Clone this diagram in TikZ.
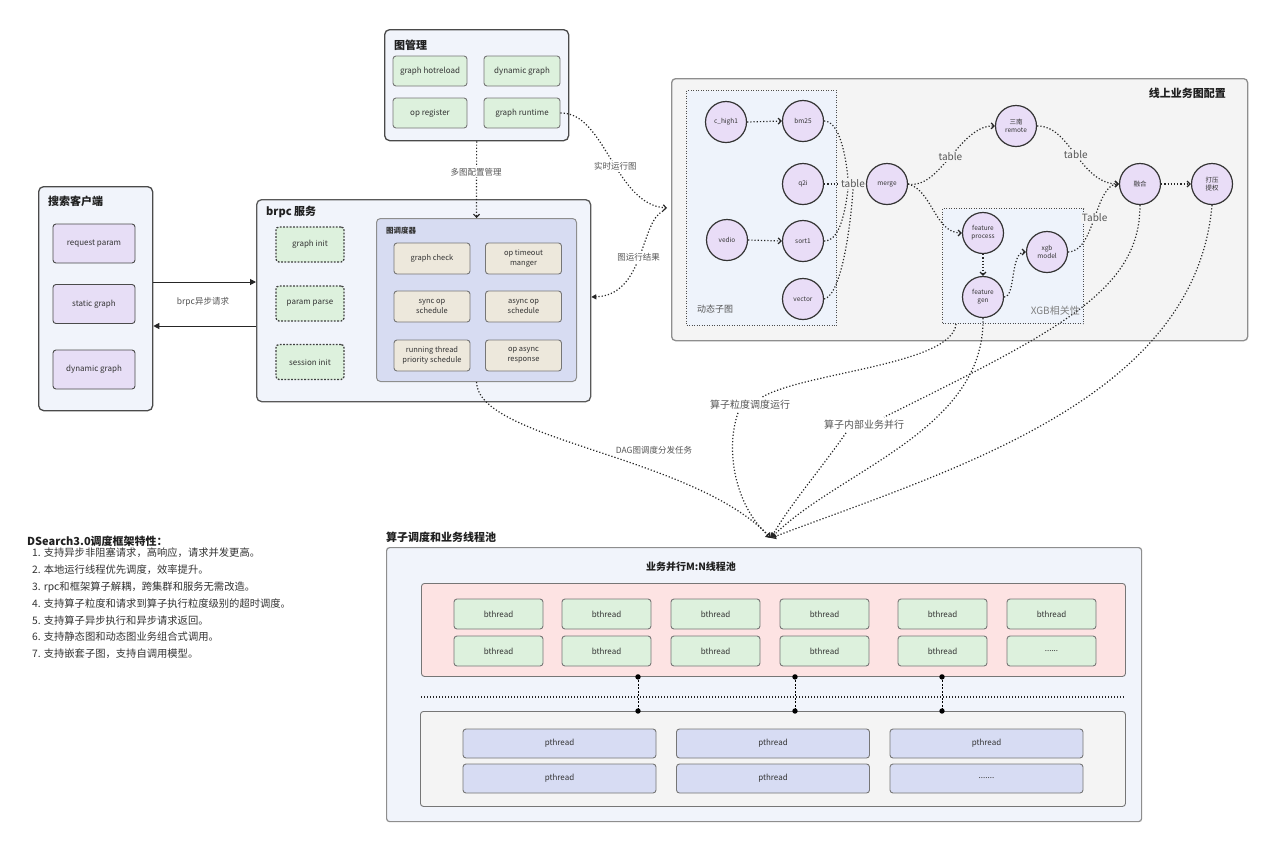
\documentclass[tikz,border=0pt]{standalone}
\usepackage{fontspec}
\setmainfont{Noto Sans CJK SC}
\usetikzlibrary{arrows.meta,calc}
\definecolor{panelbg}{HTML}{F1F4FB}
\definecolor{bdA}{HTML}{4A4A4A}
\definecolor{bdB}{HTML}{8E8E8E}
\definecolor{bdC}{HTML}{767676}
\definecolor{greenbg}{HTML}{DDF1DD}
\definecolor{purplebg}{HTML}{E7DEF6}
\definecolor{schedbg}{HTML}{D7DCF2}
\definecolor{beigebg}{HTML}{EDE8DC}
\definecolor{cfgbg}{HTML}{F4F4F4}
\definecolor{subbg}{HTML}{EEF3FB}
\definecolor{circbg}{HTML}{E9DDF7}
\definecolor{pinkbg}{HTML}{FDE3E3}
\definecolor{pthbg}{HTML}{D7DCF3}
\definecolor{txt}{HTML}{333333}
\definecolor{lbltxt}{HTML}{555555}
\begin{document}
\begin{tikzpicture}[x=1pt,y=-1pt,
  every node/.style={text=txt},
  panel/.style={draw=bdA, fill=panelbg, rounded corners=5pt, line width=1.3pt, anchor=north west, inner sep=0pt},
  title/.style={font=\fontsize{11}{13}\selectfont\bfseries, inner sep=0pt, text=black!88},
  fsA/.style={font=\fontsize{8}{9.5}\selectfont},
  gbox/.style={draw=bdC, fill=greenbg, rounded corners=3pt, line width=0.9pt, fsA, align=center, inner sep=1pt},
  gdash/.style={gbox, draw=black!75, line width=1.3pt, dash pattern=on 1.8pt off 1.5pt},
  pbox/.style={gbox, fill=purplebg, draw=bdA},
  ybox/.style={gbox, fill=beigebg, font=\fontsize{7.5}{10}\selectfont},
  subbox/.style={draw=black!70, fill=subbg, dash pattern=on 1pt off 1.5pt, line width=1pt, anchor=north west, inner sep=0pt},
  circ/.style={circle, draw=black!80, line width=1.2pt, fill=circbg, minimum size=41pt, inner sep=0pt, font=\fontsize{6.5}{8}\selectfont, align=center},
  lbl/.style={fill=white, inner sep=1.5pt, font=\fontsize{8.5}{10}\selectfont, text=lbltxt},
  lblbig/.style={fill=white, inner sep=1.5pt, font=\fontsize{10}{12}\selectfont, text=lbltxt},
  lblc/.style={fill=cfgbg, inner sep=1pt, font=\fontsize{10}{12}\selectfont, text=lbltxt},
  dl/.style={line width=1.2pt, dash pattern=on 1.2pt off 2pt, draw=black!85},
  arr/.style={dl, -{Straight Barb[length=3pt,width=6pt]}},
  opentip/.style={dl, -{Triangle[open,length=5pt,width=6pt]}},
  solidarrow/.style={line width=1pt, draw=black!85, -{Triangle[length=6pt,width=6pt]}},
  bbox/.style={gbox, minimum width=89, minimum height=30},
  ptbox/.style={gbox, fill=pthbg, minimum width=193, minimum height=29}
]
\useasboundingbox (0,0) rectangle (1280,855);
\fill[white] (0,0) rectangle (1280,855);

% ---------- 图管理 ----------
\node[panel, minimum width=184, minimum height=111] (gm) at (384,29) {};
\node[title, anchor=west] (gmt) at (394,45) {图管理};
\node[gbox, minimum width=74, minimum height=30] (gm1) at (430,71) {graph hotreload};
\node[gbox, minimum width=76, minimum height=30] (gm2) at (522,71) {dynamic graph};
\node[gbox, minimum width=74, minimum height=30] (gm3) at (430,113) {op register};
\node[gbox, minimum width=76, minimum height=30] (gm4) at (522,113) {graph runtime};

% ---------- 搜索客户端 ----------
\node[panel, minimum width=114, minimum height=224] (cl) at (38,186) {};
\node[title, anchor=west] (clt) at (48,201) {搜索客户端};
\node[pbox, minimum width=82, minimum height=39] (c1) at (94,243.5) {request param};
\node[pbox, minimum width=82, minimum height=39] (c2) at (94,304) {static graph};
\node[pbox, minimum width=82, minimum height=39] (c3) at (94,369.5) {dynamic graph};

% ---------- brpc 服务 ----------
\node[panel, draw=black!65, minimum width=334, minimum height=202] (brpc) at (256,199) {};
\node[title, anchor=west] (brpct) at (266,212) {brpc 服务};
\node[gdash, minimum width=68, minimum height=35] (b1) at (310,244.5) {graph init};
\node[gdash, minimum width=68, minimum height=35] (b2) at (310,303.5) {param parse};
\node[gdash, minimum width=68, minimum height=35] (b3) at (310,362) {session init};
\node[draw=bdB, fill=schedbg, rounded corners=4pt, line width=1pt, anchor=north west, inner sep=0pt, minimum width=200, minimum height=163] (sch) at (376,218) {};
\node[font=\fontsize{7.5}{9}\selectfont\bfseries, anchor=west, inner sep=0pt] (scht) at (386,231) {图调度器};
\node[ybox, minimum width=76, minimum height=31] (s1) at (432,258.5) {graph check};
\node[ybox, minimum width=76, minimum height=31] (s2) at (523.5,258.5) {op timeout\\manger};
\node[ybox, minimum width=76, minimum height=31] (s3) at (432,306.5) {sync op\\schedule};
\node[ybox, minimum width=76, minimum height=31] (s4) at (523.5,306.5) {async op\\schedule};
\node[ybox, minimum width=76, minimum height=31] (s5) at (432,355.5) {running thread\\priority schedule};
\node[ybox, minimum width=76, minimum height=31] (s6) at (523.5,355.5) {op async\\response};

% client <-> brpc
\coordinate (ya) at (0,282);
\coordinate (yb) at (0,326);
\draw[solidarrow] (cl.east |- ya) -- (brpc.west |- ya);
\draw[solidarrow] (brpc.west |- yb) -- (cl.east |- yb);
\node[lbl] (la) at (203,302) {brpc异步请求};

% 多图配置管理
\draw[arr] (gm.south) -- (sch.north);
\node[lbl] (lb) at (476,172) {多图配置管理};

% ---------- 线上业务图配置 ----------
\node[draw=bdB, fill=cfgbg, rounded corners=4pt, line width=1.3pt, anchor=north west, inner sep=0pt, minimum width=576, minimum height=262] (cfg) at (671,78) {};
\node[title, anchor=east] (cfgt) at (1226,93) {线上业务图配置};
\node[subbox, minimum width=150, minimum height=235] (dyn) at (686,90) {};
\node[anchor=west, inner sep=0pt, font=\fontsize{9}{11}\selectfont, text=lbltxt] (dynt) at (697,309) {动态子图};
\node[subbox, minimum width=141, minimum height=115] (xgbb) at (942,208) {};
\node[anchor=east, inner sep=0pt, font=\fontsize{10}{12}\selectfont, text=gray] (xgbt) at (1080,311) {XGB相关性};

\node[circ] (ch) at (726,122) {c\_high1};
\node[circ] (bm) at (803,121) {bm25};
\node[circ] (q2) at (803,184) {q2i};
\node[circ] (vd) at (727,240) {vedio};
\node[circ] (so) at (803,241) {sort1};
\node[circ] (ve) at (803,299) {vector};
\node[circ] (mg) at (887,184) {merge};
\node[circ] (rm) at (1016,126) {三南\\remote};
\node[circ] (rh) at (1140,184) {融合};
\node[circ] (dy) at (1212,184) {打压\\提权};
\node[circ] (fp) at (983,233) {feature\\process};
\node[circ] (fg) at (983,297) {feature\\gen};
\node[circ] (xg) at (1047,252) {xgb\\model};

\node[inner sep=1pt, font=\fontsize{10}{12}\selectfont, text=lbltxt] (tbl) at (853,184) {table};

\draw[arr] (ch.east) -- (bm.west);
\draw[arr] (vd.east) -- (so.west);
\draw[dl] (bm.east) .. controls (840,121) and (846,158) .. ([xshift=-5pt]tbl.north);
\draw[dl] (q2.east) -- (tbl.west);
\draw[dl] (so.east) .. controls (840,241) and (845,212) .. ([xshift=-5pt]tbl.south);
\draw[dl] (ve.east) .. controls (842,295) and (851,222) .. (tbl.south);

\draw[arr] (mg.east) .. controls (940,190) and (960,125) .. (rm.west) node[lblc, pos=0.5] (t1) {table};
\draw[arr] (rm.east) .. controls (1070,125) and (1080,184) .. (rh.west) node[lblc, pos=0.5] (t2) {table};
\draw[arr] (mg.east) .. controls (932,190) and (935,233) .. (fp.west);
\draw[arr] (fp.south) -- (fg.north);
\draw[arr] (fg.east) .. controls (1016,297) and (1010,252) .. (xg.west);
\draw[arr] (xg.east) .. controls (1095,252) and (1095,184) .. (rh.west) node[lblc, pos=0.5] (t3) {Table};
\draw[arr] (rh.east) -- (dy.west);

% 实时运行图 / 图运行结果
\coordinate (jt) at (667,208);
\coordinate (jt2) at (663,211);
\coordinate (yc) at (0,297);
\draw[arr] (gm4.east) .. controls (605,112) and (615,205) .. (jt) node[lbl, pos=0.55] (l3) {实时运行图};
\draw[dl, -{Triangle[length=5pt,width=5pt]}] (jt2) .. controls (640,222) and (645,295) .. (brpc.east |- yc) node[lbl, pos=0.5] (l4) {图运行结果};

% ---------- 算子调度和业务线程池 ----------
\node[draw=bdB, fill=panelbg, rounded corners=3pt, line width=1.2pt, anchor=north west, inner sep=0pt, minimum width=755, minimum height=274] (pool) at (386,547) {};
\node[title, anchor=west] (poolt) at (386,537) {算子调度和业务线程池};
\node[title, font=\fontsize{10}{12}\selectfont\bfseries] (mnt) at (691,567) {业务并行M:N线程池};
\node[draw=bdC, fill=pinkbg, rounded corners=3pt, line width=0.9pt, anchor=north west, inner sep=0pt, minimum width=704, minimum height=93] (pink) at (421,583) {};
\foreach \x [count=\i] in {498.5,606.5,715.5,824.5,942.5,1051.5} {
  \node[bbox] (bta\i) at (\x,614) {bthread};
}
\foreach \x [count=\i] in {498.5,606.5,715.5,824.5,942.5} {
  \node[bbox] (btb\i) at (\x,651) {bthread};
}
\node[bbox] (btb6) at (1051.5,651) {......};

\node[draw=bdC, fill=cfgbg, rounded corners=3pt, line width=0.9pt, anchor=north west, inner sep=0pt, minimum width=705, minimum height=95] (grey) at (420,711) {};
\foreach \x [count=\i] in {559.5,773,986.5} {
  \node[ptbox] (pta\i) at (\x,743.5) {pthread};
}
\node[ptbox] (ptb1) at (559.5,778.5) {pthread};
\node[ptbox] (ptb2) at (773,778.5) {pthread};
\node[ptbox] (ptb3) at (986.5,778.5) {.......};

\coordinate (sepL) at (421,697);
\coordinate (sepR) at (1125,697);
\draw[line width=1.1pt, dash pattern=on 1.2pt off 1.8pt, draw=black!85] (sepL) -- (sepR);
\foreach \x [count=\i] in {638,795,942} {
  \coordinate (v\i) at (\x,0);
  \draw[line width=0.8pt, dash pattern=on 2pt off 1.5pt] (v\i |- pink.south) -- (v\i |- grey.north);
  \fill (v\i |- pink.south) circle (2.7pt);
  \fill (v\i |- grey.north) circle (2.7pt);
}

% ---------- connectors to thread pool ----------
\coordinate (tg) at (771,538);
\draw[opentip] (sch.south) .. controls (478,440) and (690,455) .. (tg);
\node[lbl, fill=none] (ldag) at (654,450) {DAG图调度分发任务};

\node[lblbig, fill=none, inner sep=3pt] (l1) at (750,405) {算子粒度调度运行};
\coordinate (o1) at ($(xgbb.south west)+(14,0)$);
\draw[dl] (o1) .. controls (952,365) and (805,372) .. ([xshift=12pt]l1.north);
\draw[opentip] ([xshift=-12pt]l1.south) .. controls (725,450) and (735,505) .. (tg);

\draw[opentip] (fg.south) .. controls (985,430) and (840,470) .. (tg);

\node[lblbig, fill=none, inner sep=3pt] (l2) at (864,425) {算子内部业务并行};
\draw[dl] (rh.south) .. controls (1140,290) and (1060,330) .. ([xshift=20pt]l2.north);
\draw[opentip] ([xshift=-18pt]l2.south) .. controls (820,470) and (790,505) .. (tg);

\draw[opentip] (dy.south) .. controls (1195,400) and (950,470) .. (tg);

% ---------- 特性列表 ----------
\node[anchor=west, inner sep=0pt, font=\fontsize{11}{13}\selectfont\bfseries, text=black!88] (ft) at (27,541) {DSearch3.0调度框架特性：};
\node[anchor=north west, inner sep=0pt, align=left, font=\fontsize{10.3}{16.8}\selectfont, text=txt] (fl) at (32,548) {%
1. 支持异步非阻塞请求，高响应，请求并发更高。\\
2. 本地运行线程优先调度，效率提升。\\
3. rpc和框架算子解耦，跨集群和服务无需改造。\\
4. 支持算子粒度和请求到算子执行粒度级别的超时调度。\\
5. 支持算子异步执行和异步请求返回。\\
6. 支持静态图和动态图业务组合式调用。\\
7. 支持嵌套子图，支持自调用模型。};
\end{tikzpicture}
\end{document}
